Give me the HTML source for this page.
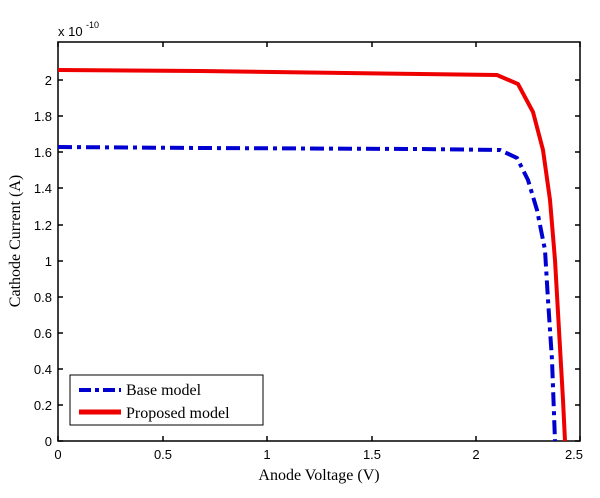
<!DOCTYPE html>
<html><head><style>body{margin:0;background:#fff}</style></head><body>
<svg width="600" height="493" xmlns="http://www.w3.org/2000/svg" font-family="Liberation Sans, sans-serif">
<rect width="600" height="493" fill="#fff"/>
<g stroke="#000" stroke-width="1.5" fill="none">
<rect x="58" y="42" width="522" height="399"/>
</g>
<g stroke="#000" stroke-width="1.5">
<path d="M58 441v-5M58 42v5M163 441v-5M163 42v5M267 441v-5M267 42v5M372 441v-5M372 42v5M476 441v-5M476 42v5M580 441v-5M580 42v5"/>
<path d="M58 441h5M58 405h5M58 369h5M58 333h5M58 297h5M58 261h5M58 225h5M58 188h5M58 152h5M58 116h5M58 80h5"/>
<path d="M580 441h-5M580 405h-5M580 369h-5M580 333h-5M580 297h-5M580 261h-5M580 225h-5M580 188h-5M580 152h-5M580 116h-5M580 80h-5"/>
</g>
<g font-size="13" fill="#000" text-anchor="end">
<text x="52" y="446">0</text><text x="52" y="410">0.2</text><text x="52" y="374">0.4</text><text x="52" y="338">0.6</text><text x="52" y="302">0.8</text><text x="52" y="266">1</text><text x="52" y="230">1.2</text><text x="52" y="193">1.4</text><text x="52" y="157">1.6</text><text x="52" y="121">1.8</text><text x="52" y="85">2</text>
</g>
<g font-size="13" fill="#000" text-anchor="middle">
<text x="58" y="459">0</text><text x="163" y="459">0.5</text><text x="267" y="459">1</text><text x="372" y="459">1.5</text><text x="476" y="459">2</text><text x="574" y="459">2.5</text>
</g>
<text x="58" y="36" font-size="13">x 10</text><text x="86" y="28" font-size="9">-10</text>
<text x="319" y="480" font-size="16" text-anchor="middle" font-family="Liberation Serif, serif">Anode Voltage (V)</text>
<text transform="translate(20,241) rotate(-90)" font-size="16" text-anchor="middle" font-family="Liberation Serif, serif">Cathode Current (A)</text>
<path d="M58 70 L200 71 L420 74 L497 75 L518 84 L533 112 L543 150 L550 200 L555 260 L559 330 L563 400 L565 441" fill="none" stroke="#e00" stroke-width="4"/>
<path d="M58 147 L200 148 L420 149 L500 150 L517 158 L528 180 L537 210 L545 250 L548 300 L552 360 L555 441" fill="none" stroke="#0000d0" stroke-width="4" stroke-dasharray="14,5,4,5"/>
<rect x="70" y="375" width="193" height="50" fill="#fff" stroke="#000" stroke-width="1"/>
<path d="M79 390 H121" stroke="#0000d0" stroke-width="4" stroke-dasharray="12,4,4,4"/>
<path d="M79 412 H121" stroke="#e00" stroke-width="5"/>
<g font-family="Liberation Serif, serif" font-size="16"><text x="126" y="395">Base model</text><text x="126" y="418">Proposed model</text></g>
</svg>
</body></html>
